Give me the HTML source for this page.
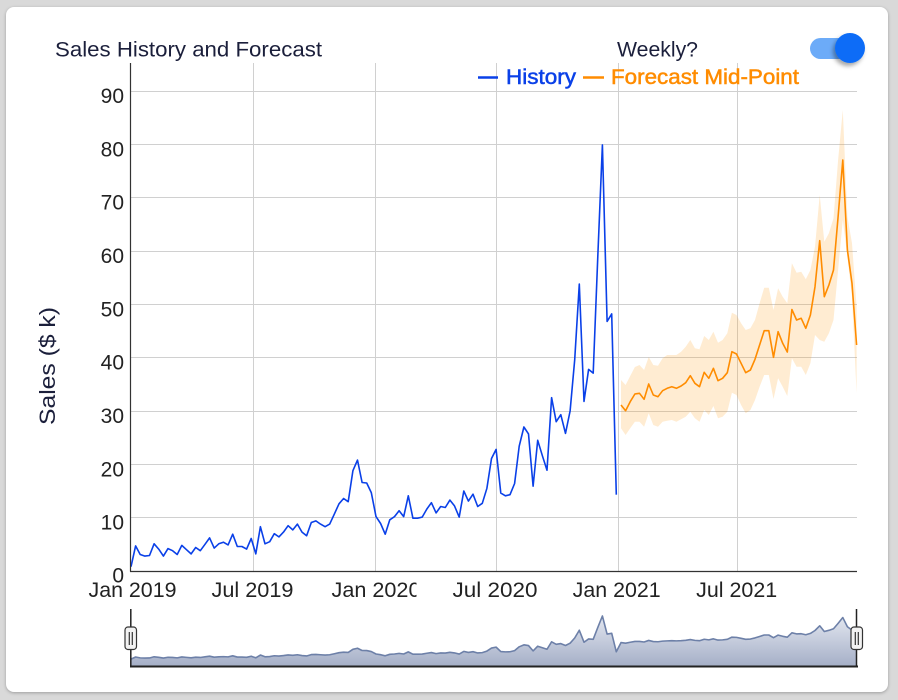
<!DOCTYPE html>
<html>
<head>
<meta charset="utf-8">
<style>
  html,body{margin:0;padding:0;}
  body{width:898px;height:700px;background:#d9d9d9;overflow:hidden;position:relative;font-family:"Liberation Sans",Arial,sans-serif;}
  .card{position:absolute;left:6px;top:7px;width:882px;height:685px;background:#fff;border-radius:8px;box-shadow:0 1px 3px rgba(0,0,0,0.28);}
  svg{position:absolute;left:0;top:0;}
  text{font-family:"Liberation Sans",Arial,sans-serif;}
</style>
</head>
<body>
<div class="card"></div>
<svg width="898" height="700" viewBox="0 0 898 700" xmlns="http://www.w3.org/2000/svg">
  <defs>
    <clipPath id="plot"><rect x="130" y="63" width="727.5" height="508"/></clipPath>
    <clipPath id="janclip"><rect x="300" y="575" width="116.5" height="30"/></clipPath>
    <linearGradient id="navg" x1="0" y1="0" x2="0" y2="1">
      <stop offset="0" stop-color="#e3e7f0"/>
      <stop offset="1" stop-color="#a5afc7"/>
    </linearGradient>
    <filter id="knobsh" x="-50%" y="-50%" width="200%" height="200%">
      <feDropShadow dx="-2" dy="3" stdDeviation="2" flood-color="#000" flood-opacity="0.35"/>
    </filter>
  </defs>

  <!-- gridlines -->
  <g stroke="#d0d0d0" stroke-width="1">
    <line x1="130" y1="91.5" x2="857" y2="91.5"/>
    <line x1="130" y1="144.5" x2="857" y2="144.5"/>
    <line x1="130" y1="197.5" x2="857" y2="197.5"/>
    <line x1="130" y1="251.5" x2="857" y2="251.5"/>
    <line x1="130" y1="304.5" x2="857" y2="304.5"/>
    <line x1="130" y1="357.5" x2="857" y2="357.5"/>
    <line x1="130" y1="411.5" x2="857" y2="411.5"/>
    <line x1="130" y1="464.5" x2="857" y2="464.5"/>
    <line x1="130" y1="517.5" x2="857" y2="517.5"/>
    <line x1="253.5" y1="63" x2="253.5" y2="571"/>
    <line x1="375.5" y1="63" x2="375.5" y2="571"/>
    <line x1="496.5" y1="63" x2="496.5" y2="571"/>
    <line x1="618.5" y1="63" x2="618.5" y2="571"/>
    <line x1="737.5" y1="63" x2="737.5" y2="571"/>
  </g>

  <g clip-path="url(#plot)">
    <!-- forecast band -->
    <polygon fill="rgba(255,160,30,0.2)" stroke="none" points="621,380 625.6,385 630.2,376 634.9,367 639.5,365 644.1,370 648.7,357 653.3,365 658,365.7 662.6,358.3 667.2,355 671.8,355 676.4,355 681.1,351.7 685.7,346.7 690.3,340 694.9,348.3 699.5,349.3 704.2,336 708.8,340 713.4,331.7 718,342.7 722.6,340 727.3,333.3 731.9,312.7 736.5,315 741.1,323.3 745.7,330 750.4,328.3 755,320 759.6,303.3 764.2,287.7 768.8,287.7 773.5,310 778.1,288.3 782.7,296.7 787.3,303.3 791.9,263.3 796.6,272.7 801.2,271.7 805.8,279.3 810.4,270 815,246.7 819.7,195 824.3,241.7 828.9,233.3 833.5,218.3 838.1,160 842.8,110 847.4,216.7 852,243.3 856.6,306.7 856.6,393.3 852,296.7 847.4,256.7 842.8,220 838.1,270 833.5,320 828.9,333.3 824.3,341.7 819.7,340 815,335 810.4,363.3 805.8,375 801.2,366.7 796.6,366.7 791.9,358.3 787.3,396 782.7,386.7 778.1,378.3 773.5,399 768.8,375 764.2,375 759.6,386.7 755,400 750.4,410 745.7,413.3 741.1,405 736.5,395 731.9,392.7 727.3,411.7 722.6,416.7 718,418.3 713.4,406 708.8,415 704.2,410 699.5,421.7 694.9,418.3 690.3,411.7 685.7,416.7 681.1,419.3 676.4,421.7 671.8,420 667.2,420.7 662.6,421.7 658,426.7 653.3,425 648.7,413.3 644.1,426.7 639.5,421.7 634.9,421.7 630.2,428.3 625.6,435 621,428.3"/>

    <!-- history -->
    <polyline fill="none" stroke="#0a40e8" stroke-width="1.6" stroke-linejoin="round" points="131,566.7 135.6,545.9 140.2,554.5 144.9,556.1 149.5,555.5 154.1,543.8 158.7,549.1 163.4,556.1 168,548.6 172.6,550.7 177.2,554.5 181.8,545.4 186.5,549.7 191.1,553.9 195.7,547.5 200.3,550.7 205,544.3 209.6,537.9 214.2,548.1 218.8,543.8 223.4,542.2 228.1,544.9 232.7,534.2 237.3,546.5 241.9,546.5 246.6,549.1 251.2,538.5 255.8,553.9 260.4,526.7 265,543.8 269.7,541.7 274.3,533.7 278.9,536.9 283.5,532.1 288.1,525.7 292.8,529.9 297.4,524.1 302,532.1 306.6,535.8 311.3,522.5 315.9,520.9 320.5,524.1 325.1,526.7 329.7,524.1 334.4,513.9 339,503.8 343.6,498.5 348.2,501.7 352.9,470.7 357.5,460.1 362.1,482.5 366.7,483 371.3,492.6 376,516.6 380.6,523.5 385.2,534.2 389.8,519.8 394.5,516.6 399.1,510.7 403.7,516.6 408.3,495.8 412.9,518.2 417.6,518.2 422.2,517.1 426.8,509.1 431.4,502.7 436.1,512.9 440.7,506.5 445.3,507.5 449.9,500.1 454.5,505.9 459.2,517.1 463.8,491 468.4,501.1 473,494.2 477.7,506.5 482.3,503.3 486.9,488.3 491.5,458.5 496.1,449.4 500.8,493.1 505.4,495.8 510,494.7 514.6,483.5 519.2,446.2 523.9,427 528.5,433.9 533.1,486.2 537.7,440.3 542.4,455.8 547,470.2 551.6,397.7 556.2,421.7 560.8,414.7 565.5,433.4 570.1,411 574.7,359.8 579.3,284.1 584,401.4 588.6,369.4 593.2,373.1 597.8,256.4 602.4,144.9 607.1,321.4 611.7,313.9 616.3,494.7"/>

    <!-- forecast mid-point -->
    <polyline fill="none" stroke="#ff8c00" stroke-width="1.6" stroke-linejoin="round" points="621,405 625.6,410.7 630.2,401.7 634.9,394 639.5,393.3 644.1,399.3 648.7,384 653.3,395 658,396.7 662.6,390.7 667.2,388.3 671.8,386.7 676.4,388.3 681.1,386 685.7,382.7 690.3,375.7 694.9,383.3 699.5,386.7 704.2,372.3 708.8,378.3 713.4,368.3 718,380.7 722.6,378.3 727.3,372.7 731.9,351.7 736.5,354 741.1,363.3 745.7,372.7 750.4,370 755,359.3 759.6,345 764.2,330.7 768.8,330.7 773.5,357.3 778.1,331.7 782.7,343.3 787.3,352 791.9,309.5 796.6,320 801.2,318.3 805.8,328.3 810.4,315 815,286.7 819.7,240.7 824.3,296.7 828.9,285 833.5,270 838.1,216.7 842.8,160 847.4,250 852,283.3 856.6,345"/>
  </g>

  <!-- axes -->
  <line x1="130.5" y1="63" x2="130.5" y2="571.5" stroke="#333" stroke-width="1.2"/>
  <line x1="130" y1="571.5" x2="857" y2="571.5" stroke="#333" stroke-width="1.2"/>

  <!-- y labels -->
  <g font-size="21" fill="#222" text-anchor="end">
    <text x="124" y="103">90</text>
    <text x="124" y="156.5">80</text>
    <text x="124" y="209.5">70</text>
    <text x="124" y="263">60</text>
    <text x="124" y="316.5">50</text>
    <text x="124" y="369.5">40</text>
    <text x="124" y="423">30</text>
    <text x="124" y="476.5">20</text>
    <text x="124" y="529.5">10</text>
    <text x="124" y="582.5">0</text>
  </g>

  <!-- x labels -->
  <g font-size="21" fill="#222" text-anchor="middle">
    <text x="132.5" y="597" textLength="88" lengthAdjust="spacingAndGlyphs">Jan 2019</text>
    <text x="252.5" y="597" textLength="82" lengthAdjust="spacingAndGlyphs">Jul 2019</text>
    <text x="376" y="597" textLength="89" lengthAdjust="spacingAndGlyphs" clip-path="url(#janclip)">Jan 2020</text>
    <text x="495" y="597" textLength="85" lengthAdjust="spacingAndGlyphs">Jul 2020</text>
    <text x="616.7" y="597" textLength="88" lengthAdjust="spacingAndGlyphs">Jan 2021</text>
    <text x="736.7" y="597" textLength="81" lengthAdjust="spacingAndGlyphs">Jul 2021</text>
  </g>

  <!-- y axis title -->
  <text x="55" y="366" font-size="22" fill="#1b1f3b" text-anchor="middle" transform="rotate(-90 55 366)" textLength="118" lengthAdjust="spacingAndGlyphs">Sales ($ k)</text>

  <!-- title -->
  <text x="55" y="56.5" font-size="21" fill="#1b1f3b" textLength="267" lengthAdjust="spacingAndGlyphs">Sales History and Forecast</text>
  <text x="617" y="56.5" font-size="21" fill="#1b1f3b" textLength="81" lengthAdjust="spacingAndGlyphs">Weekly?</text>

  <!-- legend -->
  <line x1="478" y1="77.5" x2="498" y2="77.5" stroke="#0a40e8" stroke-width="2.5"/>
  <text x="506" y="84" font-size="21" fill="#0a40e8" stroke="#0a40e8" stroke-width="0.5" textLength="70" lengthAdjust="spacingAndGlyphs">History</text>
  <line x1="583" y1="77.5" x2="604" y2="77.5" stroke="#ff8c00" stroke-width="2.5"/>
  <text x="611" y="84" font-size="21" fill="#ff8c00" stroke="#ff8c00" stroke-width="0.5" textLength="188" lengthAdjust="spacingAndGlyphs">Forecast Mid-Point</text>

  <!-- toggle -->
  <rect x="810" y="38" width="42" height="21" rx="10.5" fill="#6cabf8"/>
  <circle cx="850" cy="48" r="15" fill="#0a6cf7" filter="url(#knobsh)"/>

  <!-- navigator -->
  <g transform="matrix(1,0,0,0.1022,0,601.2)">
    <polygon fill="url(#navg)" stroke="none" points="131,566.7 135.6,545.9 140.2,554.5 144.9,556.1 149.5,555.5 154.1,543.8 158.7,549.1 163.4,556.1 168,548.6 172.6,550.7 177.2,554.5 181.8,545.4 186.5,549.7 191.1,553.9 195.7,547.5 200.3,550.7 205,544.3 209.6,537.9 214.2,548.1 218.8,543.8 223.4,542.2 228.1,544.9 232.7,534.2 237.3,546.5 241.9,546.5 246.6,549.1 251.2,538.5 255.8,553.9 260.4,526.7 265,543.8 269.7,541.7 274.3,533.7 278.9,536.9 283.5,532.1 288.1,525.7 292.8,529.9 297.4,524.1 302,532.1 306.6,535.8 311.3,522.5 315.9,520.9 320.5,524.1 325.1,526.7 329.7,524.1 334.4,513.9 339,503.8 343.6,498.5 348.2,501.7 352.9,470.7 357.5,460.1 362.1,482.5 366.7,483 371.3,492.6 376,516.6 380.6,523.5 385.2,534.2 389.8,519.8 394.5,516.6 399.1,510.7 403.7,516.6 408.3,495.8 412.9,518.2 417.6,518.2 422.2,517.1 426.8,509.1 431.4,502.7 436.1,512.9 440.7,506.5 445.3,507.5 449.9,500.1 454.5,505.9 459.2,517.1 463.8,491 468.4,501.1 473,494.2 477.7,506.5 482.3,503.3 486.9,488.3 491.5,458.5 496.1,449.4 500.8,493.1 505.4,495.8 510,494.7 514.6,483.5 519.2,446.2 523.9,427 528.5,433.9 533.1,486.2 537.7,440.3 542.4,455.8 547,470.2 551.6,397.7 556.2,421.7 560.8,414.7 565.5,433.4 570.1,411 574.7,359.8 579.3,284.1 584,401.4 588.6,369.4 593.2,373.1 597.8,256.4 602.4,144.9 607.1,321.4 611.7,313.9 616.3,494.7 621,405 625.6,410.7 630.2,401.7 634.9,394 639.5,393.3 644.1,399.3 648.7,384 653.3,395 658,396.7 662.6,390.7 667.2,388.3 671.8,386.7 676.4,388.3 681.1,386 685.7,382.7 690.3,375.7 694.9,383.3 699.5,386.7 704.2,372.3 708.8,378.3 713.4,368.3 718,380.7 722.6,378.3 727.3,372.7 731.9,351.7 736.5,354 741.1,363.3 745.7,372.7 750.4,370 755,359.3 759.6,345 764.2,330.7 768.8,330.7 773.5,357.3 778.1,331.7 782.7,343.3 787.3,352 791.9,309.5 796.6,320 801.2,318.3 805.8,328.3 810.4,315 815,286.7 819.7,240.7 824.3,296.7 828.9,285 833.5,270 838.1,216.7 842.8,160 847.4,250 852,283.3 856.6,345 856.6,636 131,636"/>
    <polyline fill="none" stroke="#6d80a8" stroke-width="1.6" vector-effect="non-scaling-stroke" stroke-linejoin="round" points="131,566.7 135.6,545.9 140.2,554.5 144.9,556.1 149.5,555.5 154.1,543.8 158.7,549.1 163.4,556.1 168,548.6 172.6,550.7 177.2,554.5 181.8,545.4 186.5,549.7 191.1,553.9 195.7,547.5 200.3,550.7 205,544.3 209.6,537.9 214.2,548.1 218.8,543.8 223.4,542.2 228.1,544.9 232.7,534.2 237.3,546.5 241.9,546.5 246.6,549.1 251.2,538.5 255.8,553.9 260.4,526.7 265,543.8 269.7,541.7 274.3,533.7 278.9,536.9 283.5,532.1 288.1,525.7 292.8,529.9 297.4,524.1 302,532.1 306.6,535.8 311.3,522.5 315.9,520.9 320.5,524.1 325.1,526.7 329.7,524.1 334.4,513.9 339,503.8 343.6,498.5 348.2,501.7 352.9,470.7 357.5,460.1 362.1,482.5 366.7,483 371.3,492.6 376,516.6 380.6,523.5 385.2,534.2 389.8,519.8 394.5,516.6 399.1,510.7 403.7,516.6 408.3,495.8 412.9,518.2 417.6,518.2 422.2,517.1 426.8,509.1 431.4,502.7 436.1,512.9 440.7,506.5 445.3,507.5 449.9,500.1 454.5,505.9 459.2,517.1 463.8,491 468.4,501.1 473,494.2 477.7,506.5 482.3,503.3 486.9,488.3 491.5,458.5 496.1,449.4 500.8,493.1 505.4,495.8 510,494.7 514.6,483.5 519.2,446.2 523.9,427 528.5,433.9 533.1,486.2 537.7,440.3 542.4,455.8 547,470.2 551.6,397.7 556.2,421.7 560.8,414.7 565.5,433.4 570.1,411 574.7,359.8 579.3,284.1 584,401.4 588.6,369.4 593.2,373.1 597.8,256.4 602.4,144.9 607.1,321.4 611.7,313.9 616.3,494.7 621,405 625.6,410.7 630.2,401.7 634.9,394 639.5,393.3 644.1,399.3 648.7,384 653.3,395 658,396.7 662.6,390.7 667.2,388.3 671.8,386.7 676.4,388.3 681.1,386 685.7,382.7 690.3,375.7 694.9,383.3 699.5,386.7 704.2,372.3 708.8,378.3 713.4,368.3 718,380.7 722.6,378.3 727.3,372.7 731.9,351.7 736.5,354 741.1,363.3 745.7,372.7 750.4,370 755,359.3 759.6,345 764.2,330.7 768.8,330.7 773.5,357.3 778.1,331.7 782.7,343.3 787.3,352 791.9,309.5 796.6,320 801.2,318.3 805.8,328.3 810.4,315 815,286.7 819.7,240.7 824.3,296.7 828.9,285 833.5,270 838.1,216.7 842.8,160 847.4,250 852,283.3 856.6,345"/>
  </g>

  <!-- navigator frame -->
  <line x1="130" y1="666.5" x2="858" y2="666.5" stroke="#222" stroke-width="2"/>
  <line x1="130.8" y1="609" x2="130.8" y2="667" stroke="#222" stroke-width="1.5"/>
  <line x1="856.5" y1="609" x2="856.5" y2="667" stroke="#222" stroke-width="1.5"/>

  <!-- handles -->
  <g stroke="#333" stroke-width="1.2">
    <rect x="125" y="627" width="11.5" height="22.5" rx="3" fill="#f2f2f2"/>
    <line x1="129.3" y1="632" x2="129.3" y2="645"/>
    <line x1="132.3" y1="632" x2="132.3" y2="645"/>
    <rect x="851" y="627" width="11.5" height="22.5" rx="3" fill="#f2f2f2"/>
    <line x1="855.3" y1="632" x2="855.3" y2="645"/>
    <line x1="858.3" y1="632" x2="858.3" y2="645"/>
  </g>
</svg>
</body>
</html>
